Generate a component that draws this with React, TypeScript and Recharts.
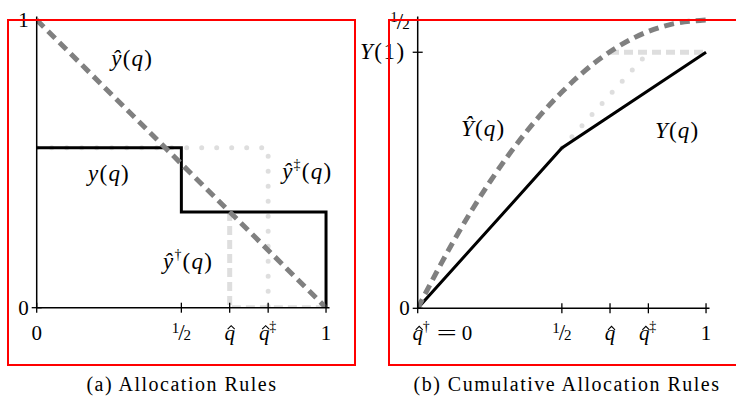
import React from "react";
import { LineChart, Line, XAxis, YAxis, ReferenceDot } from "recharts";

const SERIF = '"Liberation Serif", "Times New Roman", serif';
const DARK = "#808080";
const LIGHT = "#dedede";

// (a) allocation rules: quantile q -> allocation
const yQ = [0, 0.5, 0.5, 1, 1];
const yVal = [0.556, 0.556, 0.333, 0.333, 0];
const yHatQ = [0, 1];
const yHatVal = [1, 0];
const yDDQ = [0, 0.8, 0.8];
const yDDVal = [0.556, 0.556, 0];
const yDagQ = [0.667, 0.667, 1];
const yDagVal = [0.333, 0, 0];

// (b) cumulative allocation rules
const cumQ = [0, 0.5, 1];
const cumVal = [0, 0.278, 0.444];
const cumHatQ = [0, 0.125, 0.25, 0.375, 0.5, 0.625, 0.75, 0.875, 1];
const cumHatVal = [0, 0.117, 0.219, 0.305, 0.375, 0.43, 0.469, 0.492, 0.5];
const cumDDQ = [0.5, 0.8];
const cumDDVal = [0.278, 0.444];
const cumDagQ = [0.667, 1];
const cumDagVal = [0.444, 0.444];

// ticks
const xTicks = [0, 0.5, 0.667, 0.8, 1];
const xLabelsA = ["0", "half", "qhat", "qhatdd", "1"];
const xLabelsB = ["qhatdag0", "half", "qhat", "qhatdd", "1"];
const yTicksA = [0, 1];
const yLabelsA = ["0", "1"];
const yTicksB = [0, 0.444, 0.5];
const yLabelsB = ["0", "Y1", "half"];

const zip = (qs: number[], vs: number[]) => qs.map((q, i) => ({ q, v: vs[i] }));

const FS = 21;
const SUP = 14;

const Hat = ({ x, y }: { x: number; y: number }) => (
  <path d={`M${x - 3.5},${y + 3.5} L${x},${y} L${x + 3.5},${y + 3.5}`} stroke="#000" strokeWidth={1.1} fill="none" />
);

// x of text anchor, y of baseline
function tickText(kind: string, x: number, y: number, anchor: "middle" | "end") {
  const base = { fontFamily: SERIF, fontSize: FS, fill: "#000" };
  if (kind === "half") {
    return (
      <text x={x} y={y} textAnchor={anchor} {...base}>
        <tspan fontSize={15} dy={-7}>1</tspan>
        <tspan fontSize={23} dy={7} dx={-1}>/</tspan>
        <tspan fontSize={15} dx={-1}>2</tspan>
      </text>
    );
  }
  if (kind === "qhat" || kind === "qhatdd" || kind === "qhatdag0") {
    const qx = kind === "qhatdd" ? x - 4 : x;
    return (
      <g>
        <text x={qx} y={y} textAnchor="middle" fontStyle="italic" {...base}>q</text>
        <Hat x={qx + 1.5} y={y - 14} />
        {kind === "qhatdd" && (
          <text x={qx + 5} y={y - 9} fontSize={SUP} fontFamily={SERIF}>‡</text>
        )}
        {kind === "qhatdag0" && (
          <text x={qx + 5} y={y - 9} fontSize={SUP} fontFamily={SERIF}>†</text>
        )}
        {kind === "qhatdag0" && (
          <text x={qx + 19} y={y} {...base} textLength={20} lengthAdjust="spacingAndGlyphs">=</text>
        )}
        {kind === "qhatdag0" && (
          <text x={qx + 44} y={y} {...base}>0</text>
        )}
      </g>
    );
  }
  if (kind === "Y1") {
    return (
      <text x={x - 4} y={y} textAnchor={anchor} {...base} fontSize={23} letterSpacing={1.5}>
        <tspan fontStyle="italic">Y</tspan>(1)
      </text>
    );
  }
  return (
    <text x={x} y={y} textAnchor={anchor} {...base}>{kind}</text>
  );
}

const makeXTick = (labels: string[]) => (props: any) => {
  const { x, y, payload } = props;
  const kind = labels[xTicks.indexOf(payload.value)];
  return (
    <g>
      <line x1={x} y1={y - 5} x2={x} y2={y + 5} stroke="#000" strokeWidth={1.3} />
      {tickText(kind, x, y + 32, "middle")}
    </g>
  );
};

const makeYTick = (ticks: number[], labels: string[]) => (props: any) => {
  const { x, y, payload } = props;
  const kind = labels[ticks.indexOf(payload.value)];
  return (
    <g>
      <line x1={x - 5} y1={y} x2={x + 5} y2={y} stroke="#000" strokeWidth={1.3} />
      {tickText(kind, x - 8, y + (kind === "half" ? 9 : 7), "end")}
    </g>
  );
};

// curve annotations
function curveLabel(kind: string) {
  return (p: any) => {
    const cx = p.cx;
    const cy = p.cy + 7;
    const base = { fontFamily: SERIF, fontSize: 23, fill: "#000", textAnchor: "middle" as const, letterSpacing: 1.2 };
    const sym = kind.startsWith("Y") ? (kind === "Yhat" ? "Ŷ" : "Y") : kind === "y" ? "y" : "ŷ";
    const sup = kind === "yhatdd" ? "‡" : kind === "yhatdag" ? "†" : "";
    return (
      <text x={cx} y={cy} {...base}>
        <tspan fontStyle="italic">{sym}</tspan>
        {sup && <tspan fontSize={SUP} dy={-10}>{sup}</tspan>}
        <tspan dy={sup ? 10 : 0}>(</tspan>
        <tspan fontStyle="italic">q</tspan>)
      </text>
    );
  };
}

const lineProps = { type: "linear" as const, dataKey: "v", dot: false, isAnimationActive: false, activeDot: false };
const axisLine = { stroke: "#000", strokeWidth: 1.5 };
const caption = {
  position: "absolute" as const, top: 374, height: 20, lineHeight: "20px", textAlign: "center" as const,
  fontFamily: SERIF, fontSize: 20, letterSpacing: 1.5, whiteSpace: "nowrap" as const,
};

export default function App() {
  return (
    <div style={{ position: "absolute", left: 0, top: 0, width: 736, height: 396, overflow: "hidden", background: "#fff" }}>
      <div style={{ position: "absolute", left: 0, top: 0 }}>
        <LineChart width={370} height={396} margin={{ top: 16.5, right: 40.5, bottom: 87.3, left: 35.7 }}>
          <XAxis type="number" dataKey="q" domain={[0, 1.012]} ticks={xTicks} height={1} allowDataOverflow
            tickLine={false} tickSize={0} tickMargin={0} axisLine={axisLine} tick={makeXTick(xLabelsA)} interval={0} />
          <YAxis type="number" dataKey="v" domain={[0, 1.012]} ticks={yTicksA} width={1} allowDataOverflow
            tickLine={false} tickSize={0} tickMargin={0} axisLine={axisLine} tick={makeYTick(yTicksA, yLabelsA)} interval={0} />
          <Line {...lineProps} data={zip(yDDQ, yDDVal)} stroke={LIGHT} strokeWidth={5} strokeDasharray="0 15" strokeLinecap="round" />
          <Line {...lineProps} data={zip(yDagQ, yDagVal)} stroke={LIGHT} strokeWidth={5} strokeDasharray="9 5" />
          <Line {...lineProps} data={zip(yQ, yVal)} stroke="#000" strokeWidth={3} />
          <Line {...lineProps} data={zip(yHatQ, yHatVal)} stroke={DARK} strokeWidth={5} strokeDasharray="10 6" />
          <ReferenceDot x={0.33} y={0.864} r={0} shape={curveLabel("yhat")} />
          <ReferenceDot x={0.25} y={0.465} r={0} shape={curveLabel("y")} />
          <ReferenceDot x={0.935} y={0.472} r={0} shape={curveLabel("yhatdd")} />
          <ReferenceDot x={0.523} y={0.159} r={0} shape={curveLabel("yhatdag")} />
        </LineChart>
      </div>
      <div style={{ position: "absolute", left: 336, top: 0 }}>
        <LineChart width={400} height={396} margin={{ top: 16.5, right: 26.5, bottom: 86.7, left: 80.7 }}>
          <XAxis type="number" dataKey="q" domain={[0, 1.012]} ticks={xTicks} height={1} allowDataOverflow
            tickLine={false} tickSize={0} tickMargin={0} axisLine={axisLine} tick={makeXTick(xLabelsB)} interval={0} />
          <YAxis type="number" dataKey="v" domain={[0, 0.506]} ticks={yTicksB} width={1} allowDataOverflow
            tickLine={false} tickSize={0} tickMargin={0} axisLine={axisLine} tick={makeYTick(yTicksB, yLabelsB)} interval={0} />
          <Line {...lineProps} data={zip(cumDDQ, cumDDVal)} stroke={LIGHT} strokeWidth={5} strokeDasharray="0 15" strokeLinecap="round" />
          <Line {...lineProps} data={zip(cumDagQ, cumDagVal)} stroke={LIGHT} strokeWidth={5} strokeDasharray="9 5" />
          <Line {...lineProps} data={zip(cumQ, cumVal)} stroke="#000" strokeWidth={3} />
          <Line {...lineProps} type="monotone" data={zip(cumHatQ, cumHatVal)} stroke={DARK} strokeWidth={5} strokeDasharray="10 6" />
          <ReferenceDot x={0.227} y={0.311} r={0} shape={curveLabel("Yhat")} />
          <ReferenceDot x={0.9} y={0.3075} r={0} shape={curveLabel("Y")} />
        </LineChart>
      </div>
      <div style={{ position: "absolute", left: 7, top: 19, width: 345, height: 343, border: "2px solid #f00", pointerEvents: "none" }} />
      <div style={{ position: "absolute", left: 388, top: 19, width: 400, height: 343, border: "2px solid #f00", pointerEvents: "none" }} />
      <div style={{ ...caption, left: 0, width: 364 }}>(a) Allocation Rules</div>
      <div style={{ ...caption, left: 380, width: 374 }}>(b) Cumulative Allocation Rules</div>
    </div>
  );
}
